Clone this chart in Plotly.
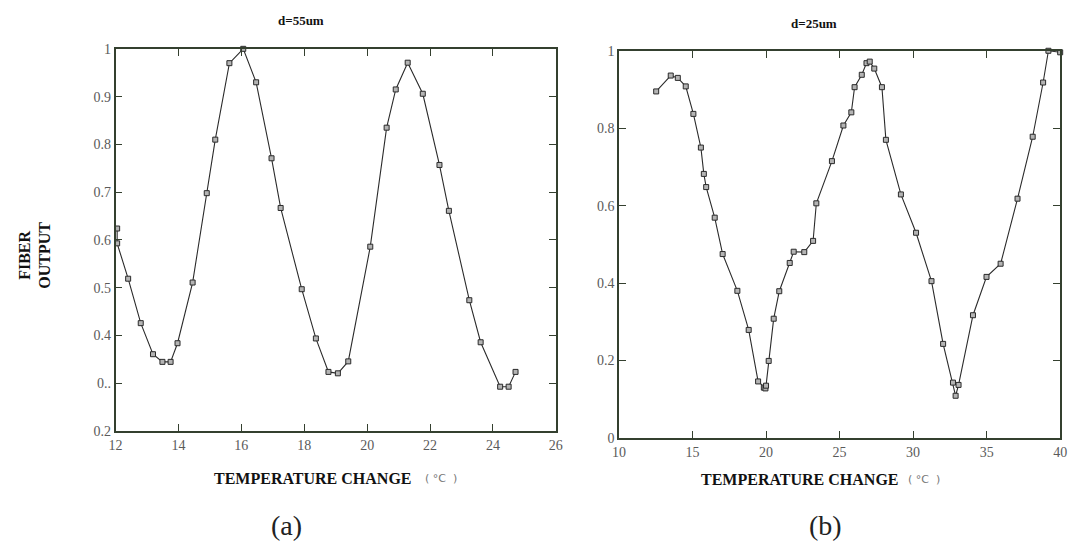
import plotly.graph_objects as go

W, H = 1081, 552

# ---- data (a) d=55um ----
a_temp = [12.05, 12.05, 12.4, 12.8, 13.19, 13.49, 13.75, 13.97, 14.45, 14.9, 15.17, 15.62,
          16.06, 16.47, 16.96, 17.25, 17.92, 18.37, 18.77, 19.07, 19.4, 20.1, 20.62, 20.91,
          21.29, 21.77, 22.3, 22.6, 23.25, 23.61, 24.23, 24.5, 24.72]
a_output = [0.624, 0.593, 0.519, 0.426, 0.361, 0.345, 0.345, 0.384, 0.511, 0.698, 0.810, 0.970,
            1.0, 0.930, 0.771, 0.667, 0.497, 0.394, 0.324, 0.321, 0.346, 0.586, 0.835, 0.915,
            0.971, 0.906, 0.757, 0.661, 0.474, 0.386, 0.293, 0.293, 0.324]

# ---- data (b) d=25um ----
b_temp = [12.53, 13.52, 14.0, 14.54, 15.06, 15.57, 15.77, 15.93, 16.51, 17.05, 18.05, 18.82,
          19.46, 19.85, 19.96, 20.0, 20.18, 20.52, 20.9, 21.61, 21.88, 22.6, 23.2, 23.42,
          24.48, 25.26, 25.8, 26.02, 26.51, 26.83, 27.05, 27.36, 27.88, 28.15, 29.17, 30.2,
          31.25, 32.04, 32.71, 32.89, 33.09, 34.07, 34.99, 35.95, 37.1, 38.13, 38.84, 39.2,
          40.0]
b_output = [0.895, 0.936, 0.930, 0.908, 0.837, 0.750, 0.682, 0.648, 0.569, 0.475, 0.380, 0.279,
            0.146, 0.130, 0.128, 0.135, 0.199, 0.308, 0.379, 0.452, 0.481, 0.480, 0.509, 0.606,
            0.715, 0.807, 0.841, 0.906, 0.938, 0.968, 0.972, 0.954, 0.906, 0.770, 0.629, 0.530,
            0.405, 0.243, 0.143, 0.109, 0.137, 0.317, 0.416, 0.450, 0.618, 0.778, 0.918, 1.0,
            0.996]

a_xticks = [12, 14, 16, 18, 20, 22, 24, 26]
a_yticks = [0.2, 0.3, 0.4, 0.5, 0.6, 0.7, 0.8, 0.9, 1.0]
a_yticklabels = ["0.2", "0..", "0.4", "0.5", "0.6", "0.7", "0.8", "0.9", "1"]
b_xticks = [10, 15, 20, 25, 30, 35, 40]
b_yticks = [0, 0.2, 0.4, 0.6, 0.8, 1.0]
b_yticklabels = ["0", "0.2", "0.4", "0.6", "0.8", "1"]


def px(x):
    return x / W


def py(y):
    return 1 - y / H


LINE = "#2b2b2b"
FRAME = "#34402f"
SERIF = "Liberation Serif, Times New Roman, serif"

fig = go.Figure()
marker = dict(symbol="square", size=5, color="#b4b4b4", line=dict(color="#2a2a2a", width=1))
fig.add_trace(go.Scatter(x=a_temp, y=a_output, mode="lines+markers", xaxis="x", yaxis="y",
                         line=dict(color=LINE, width=1.1), marker=marker, cliponaxis=False,
                         showlegend=False))
fig.add_trace(go.Scatter(x=b_temp, y=b_output, mode="lines+markers", xaxis="x2", yaxis="y2",
                         line=dict(color=LINE, width=1.1), marker=marker, cliponaxis=False,
                         showlegend=False))

axis_common = dict(showgrid=False, zeroline=False, showline=True, linecolor=FRAME, linewidth=1.5,
                   mirror="ticks", ticks="inside", ticklen=7, tickcolor=FRAME, tickwidth=1,
                   tickfont=dict(family=SERIF, size=14, color="#5a5a5a"))

fig.update_layout(
    width=W, height=H, margin=dict(l=0, r=0, t=0, b=0),
    paper_bgcolor="white", plot_bgcolor="white",
    xaxis=dict(domain=[px(110), px(556)], range=[12, 26], tickvals=a_xticks, anchor="y",
               **axis_common),
    yaxis=dict(domain=[py(436), py(43)], range=[0.2, 1.0], tickvals=a_yticks,
               ticktext=a_yticklabels, anchor="x", **axis_common),
    xaxis2=dict(domain=[px(620), px(1067)], range=[10, 40], tickvals=b_xticks, anchor="y2",
                **axis_common),
    yaxis2=dict(domain=[py(443), py(45)], range=[0, 1.0], tickvals=b_yticks,
                ticktext=b_yticklabels, anchor="x2", **axis_common),
)

ann = []
ann.append(dict(x=px(298), y=py(14), text="<b>d=55um</b>", xanchor="center",
                font=dict(family=SERIF, size=13, color="#111")))
ann.append(dict(x=px(818), y=py(17), text="<b>d=25um</b>", xanchor="center",
                font=dict(family=SERIF, size=13, color="#111")))
ann.append(dict(x=px(28), y=py(255), text="<b>FIBER<br>OUTPUT</b>", textangle=-90,
                xanchor="center", font=dict(family=SERIF, size=16, color="#111")))
tfont = dict(family=SERIF, size=16, color="#111")
ufont = dict(family="DejaVu Sans", size=11, color="#777")
ann.append(dict(x=px(412), y=py(485), text="<b>TEMPERATURE CHANGE</b>", xanchor="right",
                font=tfont))
ann.append(dict(x=px(421), y=py(485), text="( °C  )", xanchor="left", font=ufont))
ann.append(dict(x=px(701), y=py(486), text="<b>TEMPERATURE CHANGE</b>", xanchor="left",
                font=tfont))
ann.append(dict(x=px(911), y=py(486), text="( °C  )", xanchor="left", font=ufont))
ann.append(dict(x=px(283.5), y=py(533), text="(a)", xanchor="center",
                font=dict(family=SERIF, size=28, color="#222")))
ann.append(dict(x=px(829), y=py(533), text="(b)", xanchor="center",
                font=dict(family=SERIF, size=28, color="#222")))
for a in ann:
    a.update(xref="paper", yref="paper", showarrow=False, yanchor="middle")
fig.update_layout(annotations=ann)

fig.write_html("out.html", config={"displayModeBar": False},
               post_script="document.body.style.margin='0';document.body.style.overflow='hidden';")
